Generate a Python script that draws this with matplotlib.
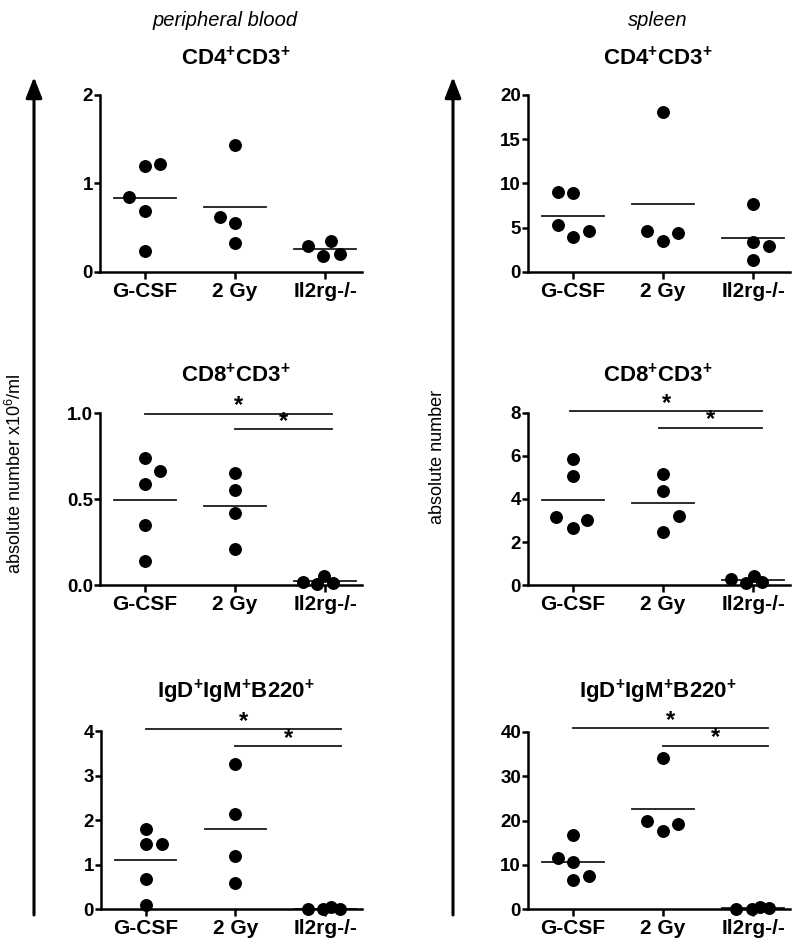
import numpy as np
import matplotlib
matplotlib.use('Agg')
import matplotlib.pyplot as plt

plt.rcParams['font.family'] = ['Liberation Sans', 'DejaVu Sans']
plt.rcParams['mathtext.fontset'] = 'custom'
plt.rcParams['mathtext.rm'] = 'Liberation Sans'
plt.rcParams['mathtext.bf'] = 'Liberation Sans:bold'

groups = ['G-CSF', '2 Gy', 'Il2rg-/-']

# peripheral blood (x10^6/ml)
pb_cd4 = [[0.85, 1.20, 1.22, 0.69, 0.24], [1.44, 0.62, 0.55, 0.33], [0.29, 0.18, 0.35, 0.20]]
pb_cd8 = [[0.74, 0.66, 0.59, 0.35, 0.14], [0.65, 0.55, 0.42, 0.21], [0.016, 0.007, 0.055, 0.013]]
pb_igd = [[1.80, 1.46, 1.46, 0.67, 0.10], [3.27, 2.13, 1.20, 0.60], [0.0, 0.0, 0.05, 0.0]]

# spleen (absolute number)
sp_cd4 = [[9.07, 8.96, 5.31, 3.92, 4.63], [18.05, 4.67, 3.54, 4.37], [7.64, 3.43, 2.94, 1.36]]
sp_cd8 = [[5.85, 5.07, 3.18, 2.64, 3.02], [5.15, 4.38, 3.22, 2.47], [0.28, 0.12, 0.43, 0.17]]
sp_igd = [[16.7, 11.5, 10.7, 6.6, 7.5], [34.0, 19.9, 17.7, 19.2], [0.1, 0.0, 0.6, 0.2]]

# horizontal spread of overlapping dots (scatter-plot style)
pb_cd4_dx = [[-0.18, 0, 0.17, 0, 0], [0, -0.17, 0, 0], [-0.19, -0.02, 0.07, 0.17]]
pb_cd8_dx = [[0, 0.17, 0, 0, 0], [0, 0, 0, 0], [-0.25, -0.09, -0.01, 0.09]]
pb_igd_dx = [[0, 0, 0.18, 0, 0], [0, 0, 0, 0], [-0.19, -0.02, 0.07, 0.17]]
sp_cd4_dx = [[-0.17, 0, -0.17, 0, 0.18], [0, -0.18, 0, 0.17], [0, 0, 0.18, 0]]
sp_cd8_dx = [[0, 0, -0.19, 0, 0.16], [0, 0, 0.18, 0], [-0.25, -0.08, 0.01, 0.10]]
sp_igd_dx = [[0, -0.17, 0, 0, 0.18], [0, -0.18, 0, 0.17], [-0.19, -0.01, 0.08, 0.18]]

W, H = 800, 942
fig = plt.figure(figsize=(W / 100, H / 100), dpi=100)


def rect(left, top, right, bottom):
    return [left / W, 1 - bottom / H, (right - left) / W, (bottom - top) / H]


def panel(box, data, shifts, ymax, yticks, fmt, sig=None):
    ax = fig.add_axes(box)
    for i, (vals, dx) in enumerate(zip(data, shifts)):
        ax.plot(i + np.array(dx), vals, 'o', color='black', ms=8.3,
                clip_on=False, zorder=3)
        m = np.mean(vals)
        ax.plot([i - 0.34, i + 0.34], [m, m], color='#1a1a1a', lw=1.3,
                clip_on=False, zorder=2)
    ax.set_xlim(-0.5, 2.41)
    ax.set_ylim(0, ymax)
    for s in ['top', 'right']:
        ax.spines[s].set_visible(False)
    for s in ['left', 'bottom']:
        ax.spines[s].set_linewidth(1.8)
    ax.set_xticks(range(3))
    ax.set_xticklabels(groups, fontsize=15, fontweight='bold')
    ax.set_yticks(yticks)
    ax.set_yticklabels([fmt.format(t) for t in yticks], fontsize=13.5,
                       fontweight='bold')
    ax.tick_params(axis='x', length=5, width=1.8, pad=2)
    ax.tick_params(axis='y', length=4, width=1.8, pad=1)
    if sig:
        for x0, x1, y in sig:
            ax.plot([x0, x1], [y, y], color='#1a1a1a', lw=1.3, clip_on=False)
            ax.annotate('*', ((x0 + x1) / 2, y), xytext=(0, -2.5),
                        textcoords='offset points', ha='center', va='bottom',
                        fontsize=17, fontweight='bold', annotation_clip=False)
    return ax


panel(rect(100, 95, 362, 272), pb_cd4, pb_cd4_dx, 2, [0, 1, 2], '{:.0f}')
panel(rect(528, 95, 790, 272), sp_cd4, sp_cd4_dx, 20, [0, 5, 10, 15, 20], '{:.0f}')
panel(rect(100, 413, 362, 585), pb_cd8, pb_cd8_dx, 1.0, [0, 0.5, 1.0], '{:.1f}',
      sig=[(0, 2.08, 0.995), (1, 2.08, 0.905)])
panel(rect(528, 412.5, 790, 585.3), sp_cd8, sp_cd8_dx, 8, [0, 2, 4, 6, 8], '{:.0f}',
      sig=[(-0.03, 2.1, 8.05), (0.95, 2.1, 7.3)])
panel(rect(100.7, 731, 362, 909.3), pb_igd, pb_igd_dx, 4, [0, 1, 2, 3, 4], '{:.0f}',
      sig=[(0, 2.18, 4.04), (1, 2.18, 3.66)])
panel(rect(528, 731.7, 790, 909.3), sp_igd, sp_igd_dx, 40, [0, 10, 20, 30, 40], '{:.0f}',
      sig=[(0, 2.17, 40.8), (1, 2.17, 36.8)])

# overlay in pixel coordinates for headers, arrows and axis names
ov = fig.add_axes([0, 0, 1, 1])
ov.set_xlim(0, W)
ov.set_ylim(H, 0)
ov.axis('off')

ov.text(225, 20, 'peripheral blood', style='italic', fontsize=14.5, ha='center', va='center')
ov.text(658, 20, 'spleen', style='italic', fontsize=14.5, ha='center', va='center')

titles = [r'$\mathbf{CD4^{+}CD3^{+}}$', r'$\mathbf{CD8^{+}CD3^{+}}$',
          r'$\mathbf{IgD^{+}IgM^{+}B220^{+}}$']
for t, y in zip(titles, [58, 375, 692]):
    ov.text(236, y, t, fontsize=16, ha='center', va='center')
    ov.text(658, y, t, fontsize=16, ha='center', va='center')

for x in [34, 453]:
    ov.annotate('', xy=(x, 77), xytext=(x, 915),
                arrowprops=dict(arrowstyle='-|>,head_length=0.9,head_width=0.35',
                                lw=2.2, color='black', mutation_scale=14,
                                shrinkA=0, shrinkB=0))

ov.text(15, 474, r'absolute number x10$^{6}$/ml', rotation=90, fontsize=13,
        ha='center', va='center')
ov.text(437, 457, 'absolute number', rotation=90, fontsize=13,
        ha='center', va='center')

fig.savefig('out.png', dpi=100)
